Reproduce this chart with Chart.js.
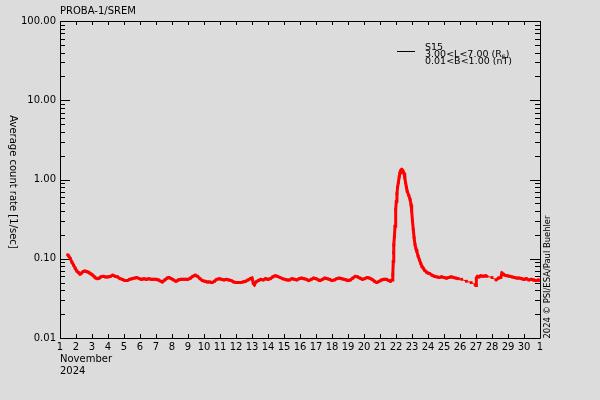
<!DOCTYPE html>
<html>
<head>
<meta charset="utf-8">
<script src="https://cdn.jsdelivr.net/npm/chart.js@4"></script>
<style>
  html, body { margin: 0; padding: 0; background: #dcdcdc; }
  #wrap { width: 600px; height: 400px; }
</style>
</head>
<body>
<div id="wrap"><canvas id="srem-chart" width="600" height="400"></canvas></div>
<script>
// day of November 2024 (fractional), S15 average count rate [1/sec]
const days = [
  1.48, 1.55, 1.65, 1.75, 1.85, 1.95, 2.05, 2.15, 2.25, 2.35, 2.45, 2.55, 2.65, 2.75, 2.85, 2.95,
  3.05, 3.15, 3.25, 3.35, 3.45, 3.55, 3.7, 3.85, 4.0, 4.15, 4.3, 4.45, 4.6, 4.75, 4.9,
  5.05, 5.2, 5.35, 5.5, 5.65, 5.8, 5.95, 6.1, 6.25, 6.4, 6.55, 6.7, 6.85,
  7.0, 7.15, 7.3, 7.4, 7.55, 7.7, 7.8, 7.95, 8.1, 8.25, 8.4, 8.55, 8.7, 8.85,
  9.0, 9.15, 9.3, 9.45, 9.6, 9.75, 9.9, 10.05, 10.2, 10.35, 10.5, 10.65, 10.8, 10.95,
  11.1, 11.25, 11.4, 11.55, 11.7, 11.85, 12.0, 12.15, 12.3, 12.45, 12.6, 12.75, 12.9,
  13.0, 13.08, 13.15, 13.25, 13.4, 13.55, 13.7, 13.85, 14.0, 14.15, 14.3, 14.45, 14.6, 14.75, 14.9,
  15.05, 15.2, 15.35, 15.5, 15.65, 15.8, 15.95, 16.1, 16.25, 16.4, 16.55, 16.7, 16.85,
  17.0, 17.15, 17.25, 17.4, 17.55, 17.7, 17.85, 18.0, 18.15, 18.3, 18.45, 18.6, 18.75, 18.9,
  19.0, 19.15, 19.3, 19.45, 19.6, 19.75, 19.9, 20.05, 20.2, 20.35, 20.5, 20.65, 20.8, 20.95,
  21.1, 21.25, 21.4, 21.55, 21.65, 21.75, 21.8, 21.83, 21.85, 21.87, 21.9, 21.94, 21.98,
  22.02, 22.06, 22.1, 22.15, 22.2, 22.25, 22.3, 22.36, 22.42, 22.5, 22.55, 22.6, 22.65, 22.7, 22.8, 22.88, 22.94, 22.98,
  23.03, 23.08, 23.13, 23.19, 23.25, 23.3, 23.38, 23.46, 23.55, 23.62, 23.7, 23.8, 23.9,
  24.0, 24.1, 24.25, 24.4, 24.55, 24.7, 24.85, 25.0, 25.15, 25.3, 25.45, 25.6, 25.75, 25.9,
  26.1, 26.4, 26.7, 26.95,
  27.0, 27.02, 27.1, 27.2, 27.3, 27.45, 27.6, 27.68,
  28.0, 28.25, 28.4, 28.55,
  28.62, 28.7, 28.8, 28.95, 29.1, 29.25, 29.4, 29.55, 29.7, 29.85, 30.0, 30.15, 30.3, 30.45, 30.6, 30.75, 30.9, 31.0
];
const rates = [
  0.112, 0.108, 0.100, 0.090, 0.083, 0.076, 0.070, 0.067, 0.064, 0.066, 0.069, 0.070, 0.069, 0.068, 0.066, 0.064,
  0.062, 0.059, 0.057, 0.056, 0.057, 0.059, 0.060, 0.059, 0.059, 0.060, 0.062, 0.060, 0.059, 0.056, 0.055,
  0.053, 0.053, 0.055, 0.056, 0.057, 0.058, 0.056, 0.055, 0.056, 0.055, 0.056, 0.055, 0.055,
  0.055, 0.054, 0.052, 0.051, 0.054, 0.057, 0.058, 0.056, 0.054, 0.052, 0.054, 0.055, 0.055, 0.055,
  0.055, 0.057, 0.060, 0.062, 0.060, 0.056, 0.053, 0.052, 0.051, 0.051, 0.050, 0.052, 0.055, 0.056,
  0.055, 0.054, 0.055, 0.054, 0.053, 0.051, 0.050, 0.050, 0.050, 0.051, 0.052, 0.054, 0.056,
  0.057, 0.049, 0.047, 0.051, 0.053, 0.055, 0.054, 0.056, 0.055, 0.056, 0.059, 0.061, 0.060, 0.058, 0.056,
  0.055, 0.054, 0.054, 0.056, 0.055, 0.054, 0.056, 0.057, 0.056, 0.055, 0.053, 0.055, 0.057,
  0.056, 0.054, 0.053, 0.055, 0.057, 0.056, 0.055, 0.053, 0.054, 0.056, 0.057, 0.056, 0.055, 0.054,
  0.053, 0.054, 0.057, 0.060, 0.059, 0.057, 0.055, 0.056, 0.058, 0.057, 0.055, 0.052, 0.050, 0.052,
  0.054, 0.055, 0.055, 0.053, 0.052, 0.054, 0.063, 0.092, 0.120, 0.150, 0.190, 0.257, 0.417,
  0.53, 0.66, 0.80, 0.92, 1.08, 1.22, 1.30, 1.34, 1.30, 1.20, 1.05, 0.91, 0.80, 0.71, 0.63, 0.56, 0.48, 0.40,
  0.30, 0.233, 0.185, 0.150, 0.133, 0.124, 0.108, 0.097, 0.087, 0.080, 0.076, 0.071, 0.068,
  0.066, 0.065, 0.062, 0.060, 0.059, 0.058, 0.059, 0.058, 0.057, 0.058, 0.059, 0.058, 0.057, 0.056,
  0.055, 0.052, 0.050, 0.047,
  0.046, 0.057, 0.060, 0.059, 0.061, 0.060, 0.061, 0.060,
  0.058, 0.054, 0.057, 0.058,
  0.066, 0.064, 0.062, 0.061, 0.060, 0.059, 0.058, 0.057, 0.057, 0.056, 0.055, 0.056, 0.054, 0.055, 0.054, 0.053, 0.054, 0.053
];

const xTickValues = [1, 2, 3, 4, 5, 6, 7, 8, 9, 10, 11, 12, 13, 14, 15, 16, 17, 18, 19, 20,
  21, 22, 23, 24, 25, 26, 27, 28, 29, 30, 31];
const xTickLabels = ['1', '2', '3', '4', '5', '6', '7', '8', '9', '10', '11', '12', '13', '14', '15', '16',
  '17', '18', '19', '20', '21', '22', '23', '24', '25', '26', '27', '28', '29', '30', '1'];
const yTickValues = [0.01, 0.1, 1, 10, 100];

const title = 'PROBA-1/SREM';
const yTitle = 'Average count rate [1/sec]';
const credit = '2024 \u00a9 PSI/ESA/Paul Buehler';
const monthLabel = 'November';
const yearLabel = '2024';

Chart.defaults.font.family = "'DejaVu Sans', sans-serif";
Chart.defaults.font.size = 10;
Chart.defaults.color = '#000';

// frame, inward ticks and free texts, IDL style
const framePlugin = {
  id: 'frame',
  beforeDatasetsDraw(chart) {
    const { ctx, chartArea: a, scales } = chart;
    ctx.save();
    ctx.strokeStyle = '#000';
    ctx.lineWidth = 1;
    ctx.beginPath();
    ctx.rect(a.left + 0.5, a.top + 0.5, a.right - a.left, a.bottom - a.top);
    xTickValues.forEach(v => {
      const px = Math.round(scales.x.getPixelForValue(v)) + 0.5;
      ctx.moveTo(px, a.bottom); ctx.lineTo(px, a.bottom - 4);
      ctx.moveTo(px, a.top); ctx.lineTo(px, a.top + 4);
    });
    yTickValues.forEach((d, i) => {
      const py = Math.round(scales.y.getPixelForValue(d)) + 0.5;
      ctx.moveTo(a.left, py); ctx.lineTo(a.left + 10, py);
      ctx.moveTo(a.right, py); ctx.lineTo(a.right - 10, py);
      if (i < yTickValues.length - 1) {
        for (let k = 2; k < 10; k++) {
          const my = Math.round(scales.y.getPixelForValue(d * k)) + 0.5;
          ctx.moveTo(a.left, my); ctx.lineTo(a.left + 5, my);
          ctx.moveTo(a.right, my); ctx.lineTo(a.right - 5, my);
        }
      }
    });
    ctx.stroke();

    ctx.fillStyle = '#000';
    ctx.font = "10px 'DejaVu Sans'";
    ctx.textBaseline = 'middle';
    ctx.textAlign = 'left';
    ctx.fillText(title, a.left, 11);
    ctx.fillText(monthLabel, a.left, 359);
    ctx.fillText(yearLabel, a.left, 371);

    ctx.save();
    ctx.translate(13, 182);
    ctx.rotate(Math.PI / 2);
    ctx.textAlign = 'center';
    ctx.fillText(yTitle, 0, 0, 149);
    ctx.restore();

    ctx.save();
    ctx.translate(548, 277);
    ctx.rotate(-Math.PI / 2);
    ctx.textAlign = 'center';
    ctx.font = "9px 'DejaVu Sans'";
    ctx.fillText(credit, 0, 0, 123);
    ctx.restore();

    // legend
    ctx.beginPath();
    ctx.moveTo(397, 51.5); ctx.lineTo(415, 51.5);
    ctx.stroke();
    ctx.font = "9.5px 'DejaVu Sans'";
    ctx.fillText('S15', 425, 48);
    const l2 = '3.00<L<7.00 (R';
    ctx.fillText(l2, 425, 55);
    let w = ctx.measureText(l2).width;
    ctx.font = "6px 'DejaVu Sans'";
    ctx.fillText('E', 425 + w, 57);
    const we = ctx.measureText('E').width;
    ctx.font = "9.5px 'DejaVu Sans'";
    ctx.fillText(')', 425 + w + we, 55);
    ctx.fillText('0.01<B<1.00 (nT)', 425, 62);
    ctx.restore();
  }
};

const srem_data = {
  datasets: [{
    label: 'S15',
    data: days.map((d, i) => ({ x: d, y: rates[i] })),
    showLine: true,
    borderColor: '#ff0000',
    backgroundColor: '#ff0000',
    borderWidth: 3,
    pointStyle: 'rect',
    pointRadius: 2,
    pointBorderWidth: 0,
    segment: {
      borderWidth: ctx => (ctx.p1.parsed.x - ctx.p0.parsed.x > 0.2 ? 1 : 3)
    }
  }]
};

const srem_config = {
  type: 'scatter',
  data: srem_data,
  plugins: [framePlugin],
  options: {
    responsive: false,
    animation: false,
    layout: { padding: { left: 0, top: 21, right: 60, bottom: 0 } },
    plugins: {
      legend: { display: false },
      tooltip: { enabled: false }
    },
    scales: {
      x: {
        type: 'linear',
        min: 1,
        max: 31,
        grid: { display: false, drawTicks: false },
        border: { display: false },
        afterBuildTicks: s => { s.ticks = xTickValues.map(v => ({ value: v })); },
        afterFit: s => { s.height = 62; },
        ticks: {
          autoSkip: false,
          maxRotation: 0,
          padding: 3,
          callback: (v, i) => xTickLabels[i]
        }
      },
      y: {
        type: 'logarithmic',
        min: 0.01,
        max: 100,
        grid: { display: false, drawTicks: false },
        border: { display: false },
        afterBuildTicks: s => { s.ticks = yTickValues.map(v => ({ value: v })); },
        afterFit: s => { s.width = 60; },
        ticks: {
          padding: 4,
          callback: v => Number(v).toFixed(2)
        }
      }
    }
  }
};

const sremChart = new Chart(document.getElementById('srem-chart'), srem_config);
</script>
</body>
</html>
